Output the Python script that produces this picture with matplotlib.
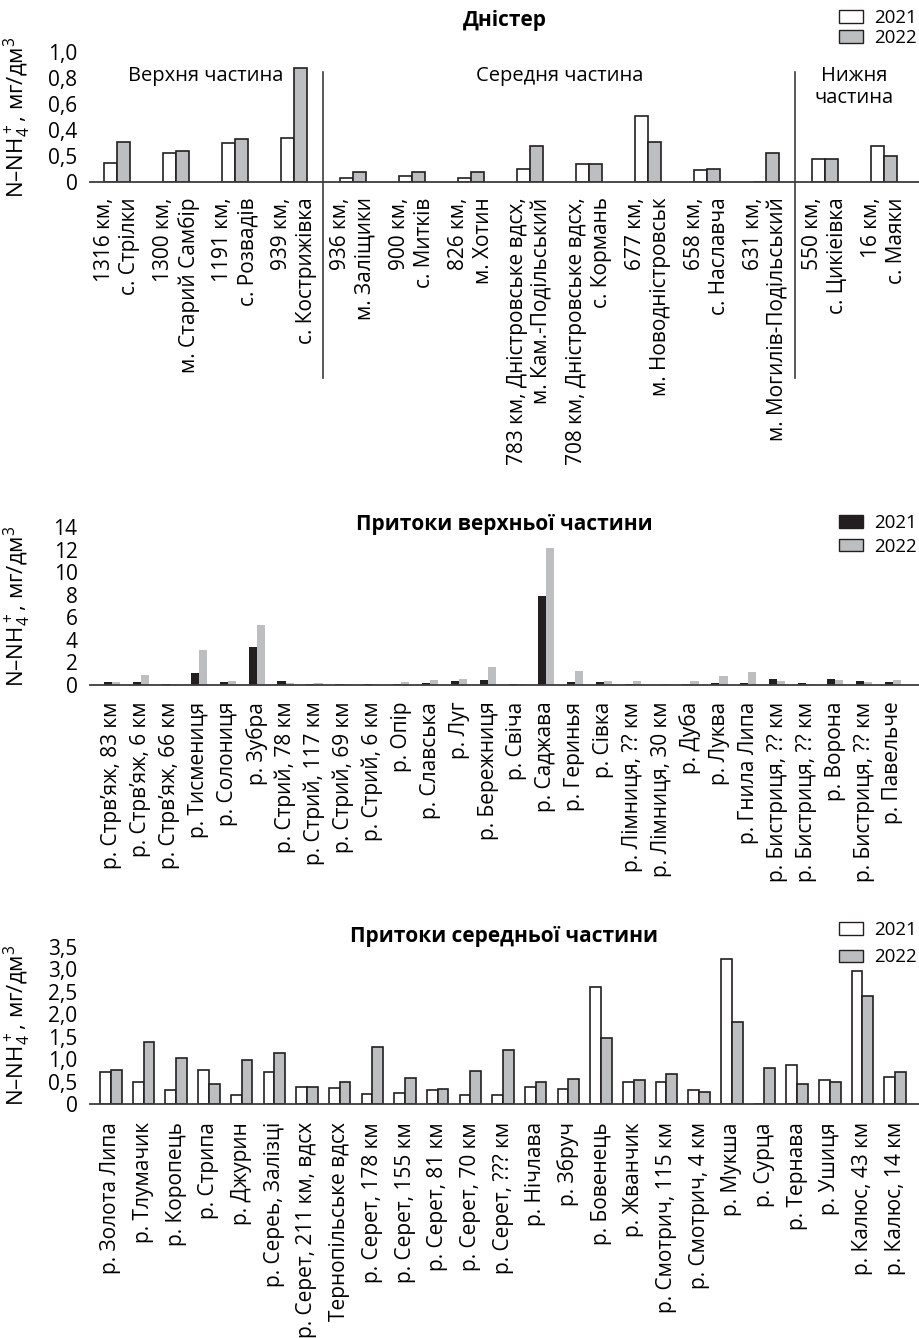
import numpy as np
import matplotlib
matplotlib.use("Agg")
import matplotlib.pyplot as plt
from matplotlib.patches import Patch

plt.rcParams['font.family'] = ['Open Sans', 'DejaVu Sans']
plt.rcParams['mathtext.fontset'] = 'custom'
plt.rcParams['mathtext.rm'] = 'Open Sans'
plt.rcParams['mathtext.it'] = 'Open Sans'

YLABEL = "N–NH$_4^+$, мг/дм$^3$"
YEARS = ["2021", "2022"]

# --- Дністер (main river)
dn_sites = ["1316 км,\nс. Стрілки", "1300 км,\nм. Старий Самбір", "1191 км,\nс. Розвадів",
            "939 км,\nс. Кострижівка", "936 км,\nм. Заліщики", "900 км,\nс. Митків",
            "826 км,\nм. Хотин", "783 км, Дністровське вдсх,\nм. Кам.-Подільський",
            "708 км, Дністровське вдсх,\nс. Кормань", "677 км,\nм. Новодністровськ",
            "658 км,\nс. Наславча", "631 км,\nм. Могилів-Подільський",
            "550 км,\nс. Цикіеівка", "16 км,\nс. Маяки"]
dn_2021 = [0.15, 0.22, 0.30, 0.34, 0.03, 0.05, 0.03, 0.10, 0.14, 0.51, 0.09, 0.0, 0.18, 0.28]
dn_2022 = [0.31, 0.24, 0.33, 0.88, 0.08, 0.08, 0.08, 0.28, 0.14, 0.31, 0.10, 0.22, 0.18, 0.20]
dn_yticks = [0, 0.2, 0.4, 0.6, 0.8, 1.0]
dn_yticklabels = ["0", "0,5", "0,4", "0,6", "0,8", "1,0"]
sec_names = ["Верхня частина", "Середня частина", "Нижня\nчастина"]
sec_first = [0, 4, 12]
sec_last = [3, 11, 13]

# --- Притоки верхньої частини
up_sites = ["р. Стрв’яж, 83 км", "р. Стрв’яж, 6 км", "р. Стрв’яж, 66 км", "р. Тисмениця",
            "р. Солониця", "р. Зубра", "р. Стрий, 78 км", "р. Стрий, 117 км", "р. Стрий, 69 км",
            "р. Стрий, 6 км", "р. Опір", "р. Славська", "р. Луг", "р. Бережниця", "р. Свіча",
            "р. Саджава", "р. Геринья", "р. Сівка", "р. Лімниця, ?? км", "р. Лімниця, 30 км",
            "р. Дуба", "р. Луква", "р. Гнила Липа", "р. Бистриця, ?? км", "р. Бистриця, ?? км",
            "р. Ворона", "р. Бистриця, ?? км", "р. Павельче"]
up_2021 = [0.30, 0.30, 0.12, 1.08, 0.30, 3.40, 0.38, 0.09, 0.09, 0.12, 0.12, 0.15, 0.33, 0.44,
           0.12, 7.90, 0.30, 0.30, 0.12, 0.0, 0.09, 0.15, 0.18, 0.55, 0.15, 0.52, 0.35, 0.23]
up_2022 = [0.30, 0.85, 0.10, 3.10, 0.35, 5.33, 0.20, 0.15, 0.09, 0.09, 0.28, 0.40, 0.52, 1.57,
           0.06, 12.1, 1.22, 0.38, 0.38, 0.12, 0.38, 0.82, 1.14, 0.35, 0.12, 0.44, 0.26, 0.47]
up_yticks = [0, 2, 4, 6, 8, 10, 12, 14]

# --- Притоки середньої частини
md_sites = ["р. Золота Липа", "р. Тлумачик", "р. Коропець", "р. Стрипа", "р. Джурин",
            "р. Сереь, Залізці", "р. Серет, 211 км, вдсх", "Тернопільське вдсх",
            "р. Серет, 178 км", "р. Серет, 155 км", "р. Серет, 81 км", "р. Серет, 70 км",
            "р. Серет, ??? км", "р. Нічлава", "р. Збруч", "р. Бовенець", "р. Жванчик",
            "р. Смотрич, 115 км", "р. Смотрич, 4 км", "р. Мукша", "р. Сурца", "р. Тернава",
            "р. Ушиця", "р. Калюс, 43 км", "р. Калюс, 14 км"]
md_2021 = [0.72, 0.48, 0.32, 0.75, 0.21, 0.71, 0.39, 0.36, 0.23, 0.25, 0.31, 0.19, 0.21,
           0.38, 0.33, 2.61, 0.48, 0.48, 0.31, 3.24, 0.0, 0.86, 0.53, 2.96, 0.60]
md_2022 = [0.76, 1.38, 1.02, 0.44, 0.99, 1.14, 0.37, 0.50, 1.27, 0.59, 0.34, 0.73, 1.21,
           0.48, 0.56, 1.47, 0.53, 0.66, 0.27, 1.83, 0.80, 0.45, 0.50, 2.41, 0.71]
md_yticks = [0, 0.5, 1.0, 1.5, 2.0, 2.5, 3.0, 3.5]

GREY = "#bcbec0"
DARK = "#231f20"
W, H = 919, 1338

fig = plt.figure(figsize=(W / 100, H / 100), dpi=100)


def make_ax(base_px, top_px):
    ax = fig.add_axes([90 / W, 1 - base_px / H, 829 / W, (base_px - top_px) / H])
    for s in ["top", "right", "left"]:
        ax.spines[s].set_visible(False)
    ax.spines["bottom"].set_color("#3c3c3c")
    ax.spines["bottom"].set_linewidth(1.3)
    ax.tick_params(axis="both", length=0)
    ax.tick_params(axis="y", labelsize=15, pad=9)
    ax.set_ylabel(YLABEL, fontsize=16)
    ax.yaxis.set_label_coords(-0.069, 0.5)
    return ax


def add_legend(ax, handles, top_px, spacing):
    ax.legend(handles, YEARS, loc="upper right", bbox_to_anchor=(917 / W, 1 - top_px / H),
              bbox_transform=fig.transFigure, frameon=False, fontsize=13.5, borderpad=0,
              borderaxespad=0, handlelength=1.3, handleheight=0.65, handletextpad=0.6,
              labelspacing=spacing)


def title(ax, text, yfrac):
    ax.text(0.5, yfrac, text, transform=ax.transAxes, ha="center", va="center",
            fontsize=15, fontweight="bold")


# ---------- panel 1: Дністер
ax1 = make_ax(182, 52)
x = np.arange(len(dn_sites))
w = 0.22
ax1.bar(x - w / 2, dn_2021, w, color="white", edgecolor=DARK, linewidth=1.2)
ax1.bar(x + w / 2, dn_2022, w, color=GREY, edgecolor=DARK, linewidth=1.2)
ax1.set_xlim(-0.46, 13.6)
ax1.set_ylim(0, 1.0)
ax1.set_yticks(dn_yticks)
ax1.set_yticklabels(dn_yticklabels)
ax1.set_xticks(x)
ax1.set_xticklabels(dn_sites, rotation=90, ha="center", va="top", multialignment="right",
                    fontsize=15, linespacing=1.25)
ax1.tick_params(axis="x", pad=11)
for i in range(len(sec_names)):
    cx = (sec_first[i] + sec_last[i]) / 2
    ax1.text(cx, 0.89, sec_names[i], ha="center", va="top", fontsize=14.5, linespacing=1.1)
for i in range(1, len(sec_first)):
    ax1.axvline(sec_first[i] - 0.5, ymin=-1.51, ymax=0.85, color="#3c3c3c", linewidth=1.2,
                clip_on=False)
title(ax1, "Дністер", 1.246)
add_legend(ax1, [Patch(facecolor="white", edgecolor=DARK, linewidth=1.0),
                 Patch(facecolor=GREY, edgecolor=DARK, linewidth=1.0)], 9, 0.12)

# ---------- panel 2: upper tributaries
ax2 = make_ax(685, 527)
x = np.arange(len(up_sites))
w = 0.28
ax2.bar(x - w / 2, up_2021, w, color=DARK, linewidth=0)
ax2.bar(x + w / 2, up_2022, w, color=GREY, linewidth=0)
ax2.set_xlim(-0.76, 27.9)
ax2.set_ylim(0, 14)
ax2.set_yticks(up_yticks)
ax2.set_yticklabels([str(v) for v in up_yticks])
ax2.set_xticks(x)
ax2.set_xticklabels(up_sites, rotation=90, ha="center", va="top", fontsize=15)
ax2.tick_params(axis="x", pad=12)
title(ax2, "Притоки верхньої частини", 1.013)
add_legend(ax2, [Patch(facecolor=DARK, edgecolor=DARK, linewidth=1.0),
                 Patch(facecolor=GREY, edgecolor=DARK, linewidth=1.0)], 514, 0.3)

# ---------- panel 3: middle tributaries
ax3 = make_ax(1104, 947)
x = np.arange(len(md_sites))
w = 0.33
ax3.bar(x - w / 2, md_2021, w, color="white", edgecolor=DARK, linewidth=1.2)
ax3.bar(x + w / 2, md_2022, w, color=GREY, edgecolor=DARK, linewidth=1.2)
ax3.set_xlim(-0.64, 24.73)
ax3.set_ylim(0, 3.5)
ax3.set_yticks(md_yticks)
ax3.set_yticklabels([("%.1f" % v).replace(".", ",") if v else "0" for v in md_yticks])
ax3.set_xticks(x)
ax3.set_xticklabels(md_sites, rotation=90, ha="center", va="top", fontsize=15)
ax3.tick_params(axis="x", pad=13)
title(ax3, "Притоки середньої частини", 1.064)
add_legend(ax3, [Patch(facecolor="white", edgecolor=DARK, linewidth=1.0),
                 Patch(facecolor=GREY, edgecolor=DARK, linewidth=1.0)], 921, 0.5)

fig.savefig("out.png", dpi=100)
